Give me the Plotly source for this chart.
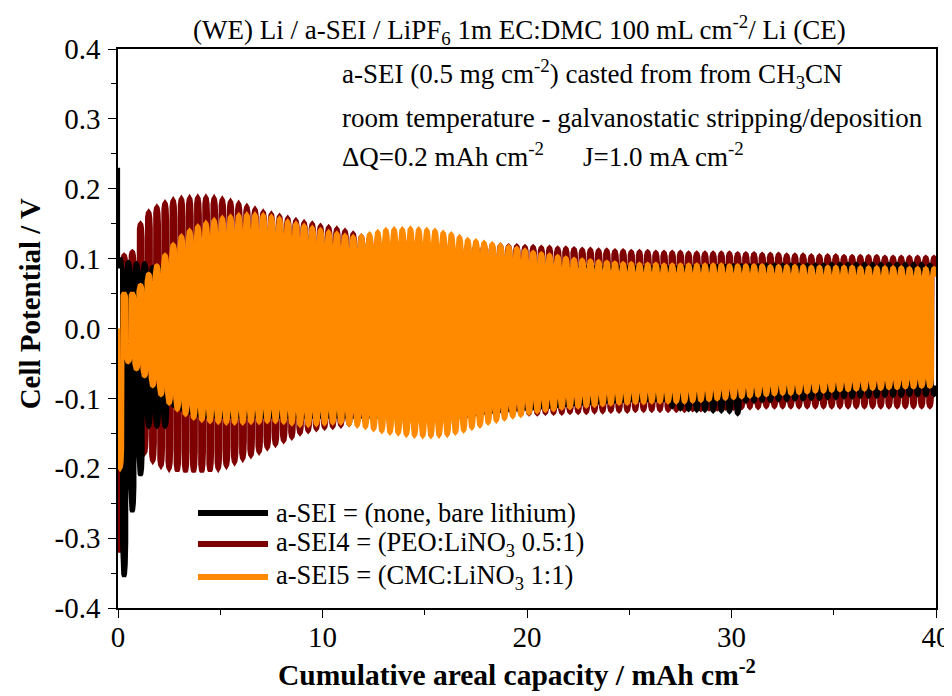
import plotly.graph_objects as go

# ---------------- data ----------------
DELTA_Q = 0.2          # mAh cm-2 per half cycle
N_CYCLES = 100

series_names = ["a-SEI = (none, bare lithium)",
                "a-SEI4 = (PEO:LiNO<sub>3</sub> 0.5:1)",
                "a-SEI5 = (CMC:LiNO<sub>3</sub> 1:1)"]

# starting potential at 0 mAh cm-2
start_black = 0.23
start_red = -0.19
start_orange = 0.0

# per-cycle peak potentials (V); cycle k spans 0.4k .. 0.4k+0.4 mAh cm-2
black_upper = [0.100, 0.095, 0.093, 0.093, 0.088, 0.087, 0.087, 0.087, 0.087, 0.087,
               0.087, 0.087, 0.087, 0.087, 0.087, 0.087, 0.087, 0.087, 0.087, 0.087,
               0.087, 0.087, 0.087, 0.087, 0.087, 0.087, 0.087, 0.087, 0.087, 0.087,
               0.087, 0.087, 0.087, 0.087, 0.087, 0.087, 0.087, 0.087, 0.087, 0.087,
               0.087, 0.087, 0.087, 0.087, 0.087, 0.087, 0.087, 0.087, 0.087, 0.087,
               0.087, 0.087, 0.087, 0.087, 0.087, 0.087, 0.087, 0.087, 0.087, 0.087,
               0.087, 0.087, 0.087, 0.087, 0.087, 0.087, 0.087, 0.087, 0.087, 0.087,
               0.088, 0.088, 0.089, 0.089, 0.089, 0.090, 0.090, 0.090, 0.090, 0.091,
               0.091, 0.091, 0.091, 0.091, 0.091, 0.091, 0.091, 0.092, 0.092, 0.092,
               0.092, 0.092, 0.092, 0.092, 0.092, 0.092, 0.092, 0.092, 0.092, 0.091]
black_lower = [-0.355, -0.262, -0.210, -0.140, -0.140, -0.140, -0.110, -0.115, -0.120, -0.123,
               -0.125, -0.125, -0.125, -0.125, -0.125, -0.125, -0.125, -0.125, -0.125, -0.125,
               -0.125, -0.125, -0.125, -0.125, -0.125, -0.125, -0.125, -0.125, -0.125, -0.125,
               -0.125, -0.125, -0.125, -0.125, -0.125, -0.125, -0.125, -0.125, -0.125, -0.125,
               -0.125, -0.125, -0.124, -0.122, -0.120, -0.118, -0.117, -0.116, -0.115, -0.114,
               -0.113, -0.112, -0.111, -0.110, -0.109, -0.108, -0.107, -0.106, -0.105, -0.104,
               -0.104, -0.103, -0.102, -0.102, -0.102, -0.102, -0.102, -0.112, -0.115, -0.116,
               -0.117, -0.117, -0.118, -0.118, -0.119, -0.122, -0.104, -0.104, -0.103, -0.103,
               -0.102, -0.102, -0.101, -0.101, -0.100, -0.100, -0.099, -0.099, -0.098, -0.098,
               -0.097, -0.097, -0.097, -0.096, -0.096, -0.096, -0.095, -0.095, -0.095, -0.095]

red_upper = [0.105, 0.110, 0.150, 0.167, 0.174, 0.180, 0.184, 0.186, 0.187, 0.188,
             0.188, 0.187, 0.185, 0.182, 0.179, 0.175, 0.171, 0.167, 0.164, 0.161,
             0.158, 0.155, 0.152, 0.150, 0.147, 0.145, 0.143, 0.140, 0.136, 0.132,
             0.130, 0.128, 0.127, 0.126, 0.125, 0.124, 0.123, 0.123, 0.122, 0.122,
             0.121, 0.121, 0.120, 0.120, 0.120, 0.119, 0.119, 0.118, 0.118, 0.117,
             0.117, 0.116, 0.116, 0.115, 0.115, 0.114, 0.113, 0.113, 0.112, 0.112,
             0.111, 0.111, 0.110, 0.110, 0.110, 0.109, 0.109, 0.109, 0.109, 0.108,
             0.108, 0.108, 0.108, 0.108, 0.108, 0.107, 0.107, 0.107, 0.106, 0.106,
             0.106, 0.105, 0.105, 0.105, 0.104, 0.104, 0.104, 0.104, 0.103, 0.103,
             0.103, 0.103, 0.103, 0.102, 0.102, 0.102, 0.102, 0.102, 0.102, 0.102]
red_lower = [-0.320, -0.160, -0.165, -0.178, -0.190, -0.197, -0.201, -0.204, -0.205, -0.205,
             -0.205, -0.204, -0.201, -0.197, -0.192, -0.187, -0.182, -0.177, -0.171, -0.166,
             -0.161, -0.156, -0.150, -0.147, -0.144, -0.142, -0.141, -0.139, -0.137, -0.135,
             -0.134, -0.133, -0.132, -0.131, -0.130, -0.130, -0.129, -0.129, -0.128, -0.128,
             -0.127, -0.127, -0.126, -0.126, -0.125, -0.125, -0.124, -0.124, -0.123, -0.123,
             -0.122, -0.122, -0.121, -0.121, -0.121, -0.120, -0.120, -0.120, -0.119, -0.119,
             -0.118, -0.118, -0.118, -0.117, -0.117, -0.117, -0.117, -0.117, -0.117, -0.117,
             -0.116, -0.116, -0.115, -0.115, -0.114, -0.114, -0.113, -0.113, -0.113, -0.112,
             -0.112, -0.112, -0.112, -0.112, -0.112, -0.112, -0.112, -0.112, -0.112, -0.112,
             -0.112, -0.112, -0.112, -0.112, -0.112, -0.112, -0.112, -0.112, -0.112, -0.112]

orange_upper = [0.050, 0.050, 0.062, 0.078, 0.090, 0.105, 0.120, 0.132, 0.140, 0.146,
                0.151, 0.155, 0.158, 0.160, 0.162, 0.163, 0.163, 0.162, 0.160, 0.157,
                0.153, 0.150, 0.147, 0.144, 0.141, 0.138, 0.136, 0.133, 0.131, 0.132,
                0.135, 0.138, 0.141, 0.142, 0.142, 0.143, 0.142, 0.141, 0.140, 0.137,
                0.135, 0.131, 0.127, 0.125, 0.123, 0.121, 0.119, 0.117, 0.115, 0.112,
                0.109, 0.107, 0.105, 0.103, 0.101, 0.099, 0.098, 0.097, 0.096, 0.095,
                0.094, 0.093, 0.093, 0.092, 0.092, 0.092, 0.091, 0.091, 0.091, 0.091,
                0.091, 0.091, 0.091, 0.091, 0.090, 0.090, 0.090, 0.090, 0.090, 0.089,
                0.089, 0.089, 0.089, 0.089, 0.088, 0.088, 0.088, 0.088, 0.088, 0.088,
                0.087, 0.087, 0.087, 0.087, 0.087, 0.087, 0.086, 0.086, 0.086, 0.086]
orange_lower = [-0.200, -0.048, -0.058, -0.068, -0.082, -0.095, -0.107, -0.116, -0.123, -0.128,
                -0.131, -0.133, -0.134, -0.135, -0.135, -0.135, -0.134, -0.134, -0.133, -0.133,
                -0.134, -0.136, -0.138, -0.138, -0.137, -0.136, -0.135, -0.135, -0.137, -0.139,
                -0.141, -0.144, -0.147, -0.149, -0.150, -0.152, -0.153, -0.154, -0.154, -0.153,
                -0.152, -0.149, -0.146, -0.142, -0.139, -0.135, -0.132, -0.129, -0.126, -0.124,
                -0.121, -0.119, -0.117, -0.116, -0.114, -0.113, -0.112, -0.111, -0.110, -0.109,
                -0.108, -0.107, -0.107, -0.106, -0.106, -0.105, -0.105, -0.105, -0.105, -0.105,
                -0.104, -0.103, -0.102, -0.101, -0.100, -0.099, -0.098, -0.097, -0.096, -0.095,
                -0.094, -0.093, -0.093, -0.092, -0.091, -0.090, -0.090, -0.089, -0.088, -0.088,
                -0.087, -0.087, -0.086, -0.086, -0.085, -0.085, -0.084, -0.084, -0.083, -0.083]

x_ticks = [0, 10, 20, 30, 40]
x_ticklabels = ["0", "10", "20", "30", "40"]
y_ticks = [-0.4, -0.3, -0.2, -0.1, 0.0, 0.1, 0.2, 0.3, 0.4]
y_ticklabels = ["-0.4", "-0.3", "-0.2", "-0.1", "0.0", "0.1", "0.2", "0.3", "0.4"]

# ---------------- style ----------------
COL_BLACK = "#000000"
COL_RED = "#7f0000"
COL_ORANGE = "#ff8a00"
FONT = "Liberation Serif, Times New Roman, serif"
LW = 4.2

# shape of a galvanostatic half cycle (fraction of the half, fraction of peak)
frac = [0.0, 0.12, 0.3, 0.5, 0.7, 0.88, 1.0]
mult = [0.86, 0.95, 0.99, 1.0, 0.99, 0.95, 0.86]


def profile(start, upper, lower, positive_first):
    xs, ys = [0.0], [start]
    for k in range(len(upper)):
        halves = [upper[k], lower[k]] if positive_first else [lower[k], upper[k]]
        for h, peak in enumerate(halves):
            x0 = (2 * k + h) * DELTA_Q
            for f, m in zip(frac, mult):
                xs.append(x0 + f * DELTA_Q)
                ys.append(peak * m)
    return xs, ys


fig = go.Figure()
xr, yr = profile(start_red, red_upper, red_lower, False)
xb, yb = profile(start_black, black_upper, black_lower, True)
xo, yo = profile(start_orange, orange_upper, orange_lower, False)
for (xx, yy, col, nm) in [(xr, yr, COL_RED, series_names[1]),
                          (xb, yb, COL_BLACK, series_names[0]),
                          (xo, yo, COL_ORANGE, series_names[2])]:
    fig.add_trace(go.Scatter(x=xx, y=yy, mode="lines", name=nm,
                             line=dict(color=col, width=LW),
                             showlegend=False, hoverinfo="skip"))

axis_common = dict(showline=True, linecolor="black", linewidth=1.6, mirror=True,
                   showgrid=False, zeroline=False, ticks="outside", ticklen=8,
                   tickwidth=1.4, tickcolor="black", automargin=False,
                   tickfont=dict(family=FONT, size=29, color="black"))

fig.update_xaxes(range=[0, 40], tickmode="array", tickvals=x_ticks, ticktext=x_ticklabels,
                 minor=dict(tickvals=[5, 15, 25, 35], ticks="outside", ticklen=5,
                            tickwidth=1.4, tickcolor="black"),
                 ticklabelstandoff=-6, **axis_common)
fig.update_yaxes(range=[-0.4, 0.4], tickmode="array", tickvals=y_ticks, ticktext=y_ticklabels,
                 minor=dict(tickvals=[-0.35, -0.25, -0.15, -0.05, 0.05, 0.15, 0.25, 0.35],
                            ticks="outside", ticklen=5, tickwidth=1.4, tickcolor="black"),
                 ticklabelstandoff=2, **axis_common)

annots = []
# axis titles (placed as in the reference)
annots.append(dict(text="<b>Cumulative areal capacity / mAh cm<sup>-2</sup></b>",
                   xref="paper", yref="paper", x=0.4878, y=-0.116, xanchor="center",
                   yanchor="middle", showarrow=False,
                   font=dict(family=FONT, size=29.5, color="black")))
annots.append(dict(text="<b>Cell Potential / V</b>", textangle=-90,
                   xref="paper", yref="paper", x=-0.1076, y=0.545, xanchor="center",
                   yanchor="middle", showarrow=False,
                   font=dict(family=FONT, size=29, color="black")))
annots.append(dict(text="(WE) Li / a-SEI / LiPF<sub>6</sub> 1m EC:DMC 100 mL cm<sup>-2</sup>/ Li (CE)",
                   xref="paper", yref="paper", x=0.4914, y=1.034, xanchor="center",
                   yanchor="middle", showarrow=False,
                   font=dict(family=FONT, size=27, color="black")))
info = [("a-SEI (0.5 mg cm<sup>-2</sup>) casted from from CH<sub>3</sub>CN", 0.271, 0.955),
        ("room temperature - galvanostatic stripping/deposition", 0.271, 0.876),
        ("ΔQ=0.2 mAh cm<sup>-2</sup>", 0.271, 0.810),
        ("J=1.0 mA cm<sup>-2</sup>", 0.566, 0.810)]
for t, x, y in info:
    annots.append(dict(text=t, xref="paper", yref="paper", x=x, y=y, xanchor="left",
                       yanchor="middle", showarrow=False,
                       font=dict(family=FONT, size=27, color="black")))

shapes = []
leg_y = [0.170, 0.1145, 0.0555]
leg_col = [COL_BLACK, COL_RED, COL_ORANGE]
for nm, y, c in zip(series_names, leg_y, leg_col):
    shapes.append(dict(type="line", xref="paper", yref="paper", x0=0.0978, x1=0.1834,
                       y0=y, y1=y, line=dict(color=c, width=6)))
    annots.append(dict(text=nm, xref="paper", yref="paper", x=0.1907, y=y,
                       xanchor="left", yanchor="middle", showarrow=False,
                       font=dict(family=FONT, size=26.5, color="black")))

# the page body adds an 8 px offset, so the figure is 8 px smaller than the window
fig.update_layout(width=944, height=688, margin=dict(l=110, r=16, t=41, b=88),
                  plot_bgcolor="white", paper_bgcolor="white",
                  annotations=annots, shapes=shapes)

fig.write_html("out.html")
